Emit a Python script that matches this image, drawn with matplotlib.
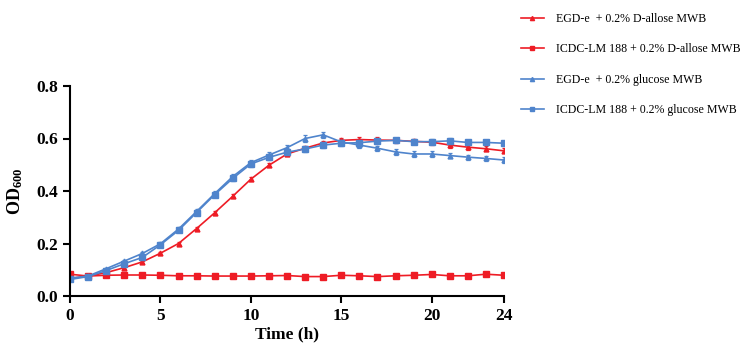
import matplotlib
matplotlib.use("Agg")
import matplotlib.pyplot as plt
from matplotlib.lines import Line2D

plt.rcParams['font.family'] = ['Liberation Serif', 'DejaVu Serif']
plt.rcParams['mathtext.fontset'] = 'custom'
plt.rcParams['mathtext.rm'] = 'Liberation Serif'
plt.rcParams['mathtext.bf'] = 'Liberation Serif:bold'

hours = list(range(25))

egd_allose = [0.067, 0.076, 0.089, 0.108, 0.130, 0.163, 0.200, 0.257, 0.317, 0.380, 0.445, 0.498, 0.541,
              0.563, 0.583, 0.593, 0.596, 0.594, 0.593, 0.589, 0.586, 0.575, 0.567, 0.561, 0.553]
icdc_allose = [0.083, 0.076, 0.079, 0.080, 0.080, 0.079, 0.077, 0.077, 0.076, 0.076, 0.076, 0.077, 0.078,
               0.074, 0.074, 0.079, 0.077, 0.074, 0.077, 0.079, 0.082, 0.077, 0.077, 0.083, 0.079]
egd_glucose = [0.068, 0.076, 0.104, 0.133, 0.162, 0.199, 0.255, 0.322, 0.390, 0.455, 0.508, 0.537, 0.565,
               0.600, 0.614, 0.587, 0.575, 0.563, 0.549, 0.541, 0.541, 0.535, 0.529, 0.524, 0.518]
icdc_glucose = [0.063, 0.074, 0.097, 0.123, 0.147, 0.195, 0.250, 0.318, 0.386, 0.448, 0.503, 0.528, 0.548,
                0.560, 0.575, 0.582, 0.584, 0.590, 0.593, 0.588, 0.588, 0.591, 0.585, 0.585, 0.582]

err_egd_allose = [0.004, 0.003, 0.004, 0.004, 0.005, 0.005, 0.005, 0.006, 0.007, 0.007, 0.008, 0.008, 0.008,
                  0.008, 0.009, 0.009, 0.010, 0.010, 0.010, 0.010, 0.010, 0.010, 0.010, 0.010, 0.010]
err_icdc_allose = [0.003] * 25
err_egd_glucose = [0.004, 0.003, 0.004, 0.005, 0.006, 0.007, 0.008, 0.009, 0.009, 0.010, 0.010, 0.012, 0.012,
                   0.012, 0.012, 0.010, 0.010, 0.010, 0.010, 0.010, 0.010, 0.010, 0.010, 0.010, 0.010]
err_icdc_glucose = [0.004, 0.003, 0.004, 0.005, 0.006, 0.007, 0.008, 0.009, 0.009, 0.010, 0.010, 0.010, 0.010,
                    0.010, 0.010, 0.010, 0.010, 0.010, 0.010, 0.010, 0.010, 0.010, 0.010, 0.010, 0.010]

labels = ["EGD-e  + 0.2% D-allose MWB",
          "ICDC-LM 188 + 0.2% D-allose MWB",
          "EGD-e  + 0.2% glucose MWB",
          "ICDC-LM 188 + 0.2% glucose MWB"]

RED = '#EE1C25'
BLUE = '#4F84CC'

fig = plt.figure(figsize=(7.43, 3.46), dpi=100)
ax = fig.add_axes([70 / 743, 1 - 296 / 346, 434 / 743, 210 / 346])

series = [
    (egd_allose, err_egd_allose, RED, '^', 3.5),
    (icdc_allose, err_icdc_allose, RED, 's', 4.0),
    (egd_glucose, err_egd_glucose, BLUE, '^', 3.5),
    (icdc_glucose, err_icdc_glucose, BLUE, 's', 4.0),
]
handles = []
for (vals, errs, col, mk, ms), lab in zip(series, labels):
    ax.errorbar(hours, vals, yerr=errs, color=col, marker=mk, markersize=ms, lw=1.2,
                elinewidth=0.9, capsize=1.5, capthick=0.9, label=lab)
    handles.append(Line2D([], [], color=col, marker=mk, markersize=ms - 0.5, lw=1.2))

ax.set_xlim(0, 24)
ax.set_ylim(0, 0.8)
ax.set_xticks([0, 5, 10, 15, 20, 24])
ax.set_yticks([0.0, 0.2, 0.4, 0.6, 0.8])
ax.set_yticklabels(['0.0', '0.2', '0.4', '0.6', '0.8'])
for s in ['top', 'right']:
    ax.spines[s].set_visible(False)
for s in ['left', 'bottom']:
    ax.spines[s].set_linewidth(1.5)
ax.tick_params(axis='both', direction='out', length=5, width=1.5, labelsize=12.5)
for lbl in ax.get_xticklabels() + ax.get_yticklabels():
    lbl.set_fontweight('bold')
ax.set_xlabel('Time (h)', fontsize=12.5, fontweight='bold', labelpad=2)
ax.set_ylabel(r'$\mathbf{OD_{600}}$', fontsize=13, labelpad=8)

fig.legend(handles=handles, labels=labels, loc='upper left',
           bbox_to_anchor=(516 / 743, 1 - 8 / 346), frameon=False,
           fontsize=8.6, labelspacing=1.55, handlelength=1.95, handletextpad=1.0,
           borderaxespad=0)

fig.savefig('out.png', dpi=100)
